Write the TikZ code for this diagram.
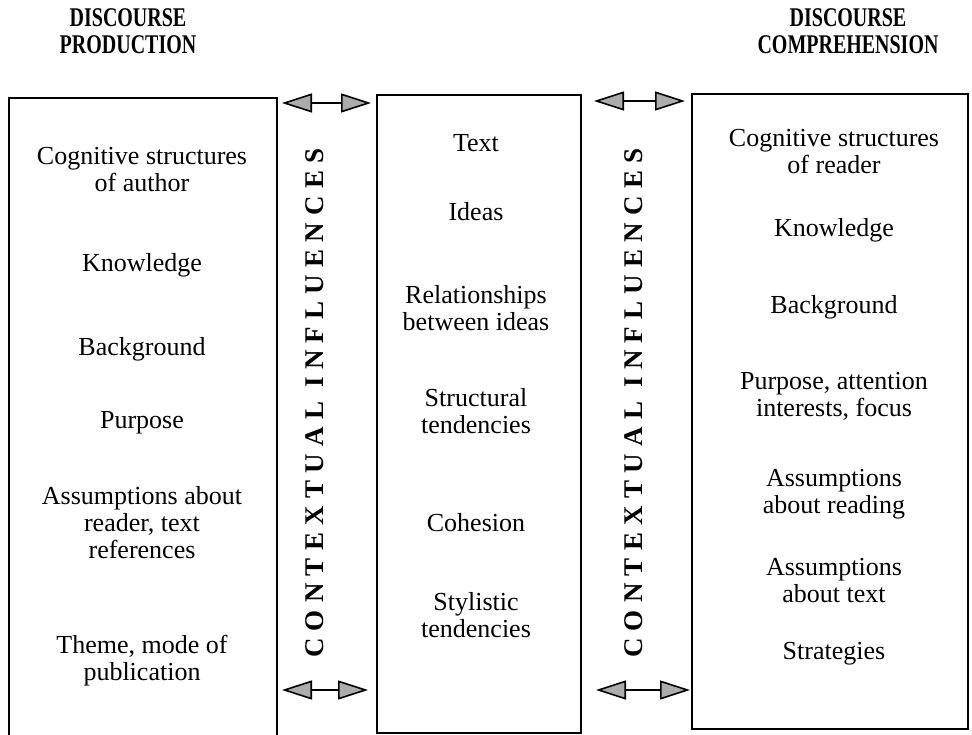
\documentclass[tikz,border=0pt]{standalone}
\usepackage{fontspec}
\setmainfont{Liberation Serif}
\newfontfamily\headfont{Liberation Serif}[FakeStretch=0.74]
\newfontfamily\sidefont{Liberation Serif}[LetterSpace=27]
\usetikzlibrary{arrows.meta}

\tikzset{
  panel/.style={draw, line width=1.6pt, anchor=north west, inner sep=0pt},
  item/.style={align=center, inner sep=0pt, font=\fontsize{26}{27}\selectfont},
  head/.style={align=center, inner sep=0pt, font=\headfont\bfseries\fontsize{27}{27}\selectfont},
  sideways/.style={rotate=90, inner sep=0pt, font=\sidefont\bfseries\fontsize{27}{27}\selectfont},
  fattip/.tip={Triangle[length=30pt,width=19pt,fill=gray!65]},
  link/.style={line width=1.6pt, fattip-fattip}
}

\begin{document}
\begin{tikzpicture}[x=1pt,y=-1pt]
\useasboundingbox (0,0) rectangle (972,735);

% column headings
\node[head] (hprod) at (128,31) {DISCOURSE\\PRODUCTION};
\node[head] (hcomp) at (848,31) {DISCOURSE\\COMPREHENSION};

% the three panels
\node[panel, minimum width=268pt, minimum height=650pt] (lbox) at (8,97) {};
\node[panel, minimum width=204pt, minimum height=638pt] (mbox) at (376,94) {};
\node[panel, minimum width=276pt, minimum height=635pt] (rbox) at (691,93) {};

% production side
\node[item] (l1) at (142,170) {Cognitive structures\\of author};
\node[item] (l2) at (142,265) {Knowledge};
\node[item] (l3) at (142,349) {Background};
\node[item] (l4) at (142,423) {Purpose};
\node[item] (l5) at (142,523) {Assumptions about\\reader, text\\references};
\node[item] (l6) at (142,661) {Theme, mode of\\publication};

% text
\node[item] (m1) at (476,143) {Text};
\node[item] (m2) at (476,212) {Ideas};
\node[item] (m3) at (476,308) {Relationships\\between ideas};
\node[item] (m4) at (476,411) {Structural\\tendencies};
\node[item] (m5) at (476,523) {Cohesion};
\node[item] (m6) at (476,615) {Stylistic\\tendencies};

% comprehension side
\node[item] (r1) at (834,152) {Cognitive structures\\of reader};
\node[item] (r2) at (834,230) {Knowledge};
\node[item] (r3) at (834,307) {Background};
\node[item] (r4) at (834,396) {Purpose, attention\\interests, focus};
\node[item] (r5) at (834,494) {Assumptions\\about reading};
\node[item] (r6) at (834,581) {Assumptions\\about text};
\node[item] (r7) at (834,654) {Strategies};

% contextual influences between the panels
\node[sideways] (ctxl) at (315,403) {CONTEXTUAL INFLUENCES};
\node[sideways] (ctxr) at (634,403) {CONTEXTUAL INFLUENCES};

% arrow ends
\coordinate (tla) at (282,103);
\coordinate (tlb) at (371,103);
\coordinate (tra) at (594,101);
\coordinate (trb) at (685,101);
\coordinate (bla) at (282,690);
\coordinate (blb) at (368,690);
\coordinate (bra) at (596,690);
\coordinate (brb) at (690,690);

\draw[link] (tla) -- (tlb);
\draw[link] (tra) -- (trb);
\draw[link] (bla) -- (blb);
\draw[link] (bra) -- (brb);
\end{tikzpicture}
\end{document}
